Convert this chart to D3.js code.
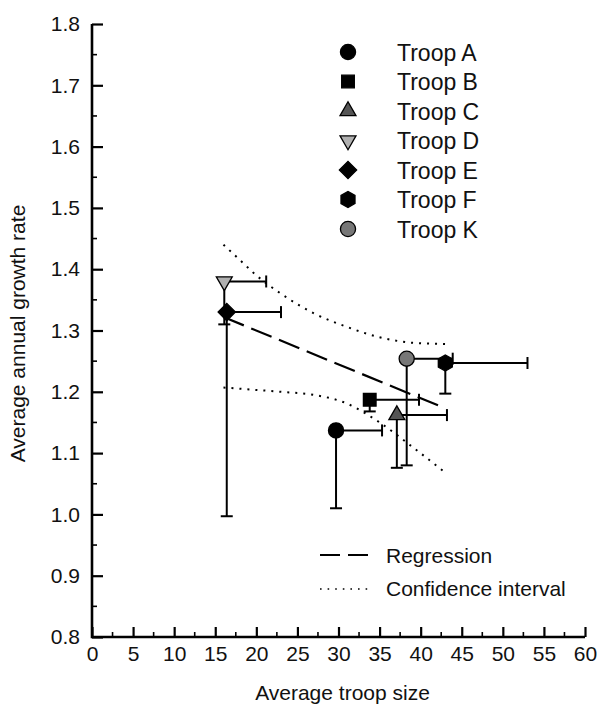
<!DOCTYPE html>
<html>
<head>
<meta charset="utf-8">
<script src="https://cdn.jsdelivr.net/npm/d3@7"></script>
<style>
  body { margin: 0; background: #fff; }
  text { font-family: "Liberation Sans", Arial, sans-serif; fill: #111; }
</style>
</head>
<body>
<div id="my_dataviz"></div>
<script>
// troop data
var troops = ["Troop A", "Troop B", "Troop C", "Troop D", "Troop E", "Troop F", "Troop K"]
var troopSize = [29.7, 33.8, 37.1, 16.1, 16.4, 43.0, 38.3]
var troopSizeHi = [35.3, 39.8, 43.2, 21.2, 23.0, 53.0, 43.9]
var growthRate = [1.137, 1.187, 1.162, 1.380, 1.330, 1.247, 1.254]
var growthRateLo = [1.010, 1.168, 1.076, 1.310, 0.997, 1.197, 1.080]
var markerFill = ["#000", "#000", "#555", "#b0b0b0", "#000", "#000", "#777"]
var markerShape = ["circle", "square", "triangle", "triangleDown", "diamond", "hexagon", "circle"]

// regression and confidence interval
var regX = [16, 43]
var regY = [1.322, 1.173]
var ciX = [16, 18, 20, 23, 27, 31, 35, 39, 43]
var ciUpper = [1.44, 1.415, 1.39, 1.36, 1.328, 1.306, 1.289, 1.28, 1.278]
var ciLower = [1.207, 1.205, 1.203, 1.200, 1.195, 1.181, 1.150, 1.110, 1.068]

var xTicks = d3.range(0, 61, 5)
var yTicks = [0.8, 0.9, 1.0, 1.1, 1.2, 1.3, 1.4, 1.5, 1.6, 1.7, 1.8]

var margin = {top: 24, right: 12, bottom: 71, left: 92},
    width = 597 - margin.left - margin.right,
    height = 708 - margin.top - margin.bottom;

var svg = d3.select("#my_dataviz")
  .append("svg")
  .attr("width", 597)
  .attr("height", 708)
  .append("g")
  .attr("transform", "translate(" + margin.left + "," + margin.top + ")");

var x = d3.scaleLinear().domain([0, 60]).range([0, 493])
var y = d3.scaleLinear().domain([0.8, 1.8]).range([613, 0])

// x axis (ticks pointing inward)
var xAxis = svg.append("g")
  .attr("transform", "translate(0," + y(0.8) + ")")
  .call(d3.axisBottom(x).tickValues(xTicks).tickSize(-10).tickPadding(9).tickFormat(d3.format("d")))
xAxis.select(".domain").remove()
xAxis.selectAll("line").attr("stroke-width", 2.2)
xAxis.selectAll("text").style("font-size", "21px").attr("fill", "#111")
xAxis.selectAll(".minor").data(d3.range(2.5, 60, 5)).enter()
  .append("line")
  .attr("x1", d => x(d)).attr("x2", d => x(d))
  .attr("y1", 0).attr("y2", -5)
  .attr("stroke", "#000").attr("stroke-width", 1.6)

// y axis
var yAxis = svg.append("g")
  .call(d3.axisLeft(y).tickValues(yTicks).tickSize(-11).tickPadding(12).tickFormat(d3.format(".1f")))
yAxis.select(".domain").remove()
yAxis.selectAll("line").attr("stroke-width", 2.2)
yAxis.selectAll("text").style("font-size", "21px").attr("fill", "#111")
yAxis.selectAll(".minor").data(d3.range(0.85, 1.8, 0.1)).enter()
  .append("line")
  .attr("y1", d => y(d)).attr("y2", d => y(d))
  .attr("x1", 0).attr("x2", 5)
  .attr("stroke", "#000").attr("stroke-width", 1.6)

// axis lines
svg.append("path")
  .attr("d", "M0," + y(1.8) + "V" + y(0.8) + "H" + x(60))
  .attr("fill", "none").attr("stroke", "#000").attr("stroke-width", 2.6)

// axis titles
svg.append("text")
  .attr("x", x(30) + 4).attr("y", 676)
  .attr("text-anchor", "middle")
  .style("font-size", "21px")
  .text("Average troop size")
svg.append("text")
  .attr("transform", "translate(-67," + (y(1.3) + 3) + ") rotate(-90)")
  .attr("text-anchor", "middle")
  .style("font-size", "21px")
  .text("Average annual growth rate")

// confidence interval curves
var line = d3.line().x(d => x(d[0])).y(d => y(d[1])).curve(d3.curveMonotoneX)
svg.append("path")
  .attr("d", line(ciX.map((v, i) => [v, ciUpper[i]])))
  .attr("fill", "none").attr("stroke", "#000").attr("stroke-width", 2)
  .attr("stroke-dasharray", "2,6")
svg.append("path")
  .attr("d", line(ciX.map((v, i) => [v, ciLower[i]])))
  .attr("fill", "none").attr("stroke", "#000").attr("stroke-width", 2)
  .attr("stroke-dasharray", "2,6")

// regression
svg.append("path")
  .attr("d", d3.line().x(d => x(d[0])).y(d => y(d[1]))(regX.map((v, i) => [v, regY[i]])))
  .attr("fill", "none").attr("stroke", "#000").attr("stroke-width", 2.2)
  .attr("stroke-dasharray", "22,8")

// error bars (right and lower only)
var data = troops.map((t, i) => ({
  name: t, x: troopSize[i], xHi: troopSizeHi[i], y: growthRate[i], yLo: growthRateLo[i],
  fill: markerFill[i], shape: markerShape[i]
}))

var bars = svg.append("g").attr("stroke", "#000").attr("stroke-width", 2)
data.forEach(function(d) {
  bars.append("line").attr("x1", x(d.x)).attr("x2", x(d.xHi)).attr("y1", y(d.y)).attr("y2", y(d.y))
  bars.append("line").attr("x1", x(d.xHi)).attr("x2", x(d.xHi)).attr("y1", y(d.y) - 6).attr("y2", y(d.y) + 6)
  bars.append("line").attr("x1", x(d.x)).attr("x2", x(d.x)).attr("y1", y(d.y)).attr("y2", y(d.yLo))
  bars.append("line").attr("x1", x(d.x) - 6).attr("x2", x(d.x) + 6).attr("y1", y(d.yLo)).attr("y2", y(d.yLo))
})

// marker shapes
var hexagon = {
  draw: function(ctx, size) {
    var r = Math.sqrt(size / (1.5 * Math.sqrt(3)))
    for (var k = 0; k < 6; k++) {
      var a = Math.PI / 6 + k * Math.PI / 3
      if (k === 0) ctx.moveTo(r * Math.cos(a), r * Math.sin(a))
      else ctx.lineTo(r * Math.cos(a), r * Math.sin(a))
    }
    ctx.closePath()
  }
}
var markerPath = function(shape) {
  if (shape === "circle") return d3.symbol(d3.symbolCircle, 180)()
  if (shape === "square") return d3.symbol(d3.symbolSquare, 160)()
  if (shape === "triangle" || shape === "triangleDown") return d3.symbol(d3.symbolTriangle, 110)()
  if (shape === "diamond") return d3.symbol(d3.symbolSquare, 150)()
  return d3.symbol(hexagon, 170)()
}
var markerRotate = function(shape) {
  if (shape === "triangleDown") return " rotate(180)"
  if (shape === "diamond") return " rotate(45)"
  return ""
}

svg.selectAll(".pt")
  .data(data)
  .enter()
  .append("path")
  .attr("class", "pt")
  .attr("d", d => markerPath(d.shape))
  .attr("transform", d => "translate(" + x(d.x) + "," + y(d.y) + ")" + markerRotate(d.shape))
  .style("fill", d => d.fill)
  .style("stroke", "#000")
  .style("stroke-width", 1.3)

// troop legend
var legend = svg.append("g").attr("transform", "translate(" + (348 - margin.left) + "," + (52 - margin.top) + ")")
legend.selectAll(".lg")
  .data(data)
  .enter()
  .append("g")
  .attr("transform", (d, i) => "translate(0," + (i * 29.5) + ")")
  .each(function(d) {
    var g = d3.select(this)
    g.append("path")
      .attr("d", markerPath(d.shape))
      .attr("transform", markerRotate(d.shape))
      .style("fill", d.fill).style("stroke", "#000").style("stroke-width", 1.3)
    g.append("text")
      .attr("x", 49).attr("y", 8.5)
      .style("font-size", "23px")
      .text(d.name)
  })

// line legend
var lineLegend = svg.append("g").attr("transform", "translate(" + (320 - margin.left) + "," + (555 - margin.top) + ")")
lineLegend.append("line").attr("x1", 0).attr("x2", 48).attr("y1", 0).attr("y2", 0)
  .attr("stroke", "#000").attr("stroke-width", 2).attr("stroke-dasharray", "20,8")
lineLegend.append("text").attr("x", 66).attr("y", 8).style("font-size", "21px").text("Regression")
lineLegend.append("line").attr("x1", 0).attr("x2", 48).attr("y1", 34).attr("y2", 34)
  .attr("stroke", "#000").attr("stroke-width", 1.6).attr("stroke-dasharray", "1.6,6")
lineLegend.append("text").attr("x", 66).attr("y", 41).style("font-size", "21px").text("Confidence interval")
</script>
</body>
</html>
